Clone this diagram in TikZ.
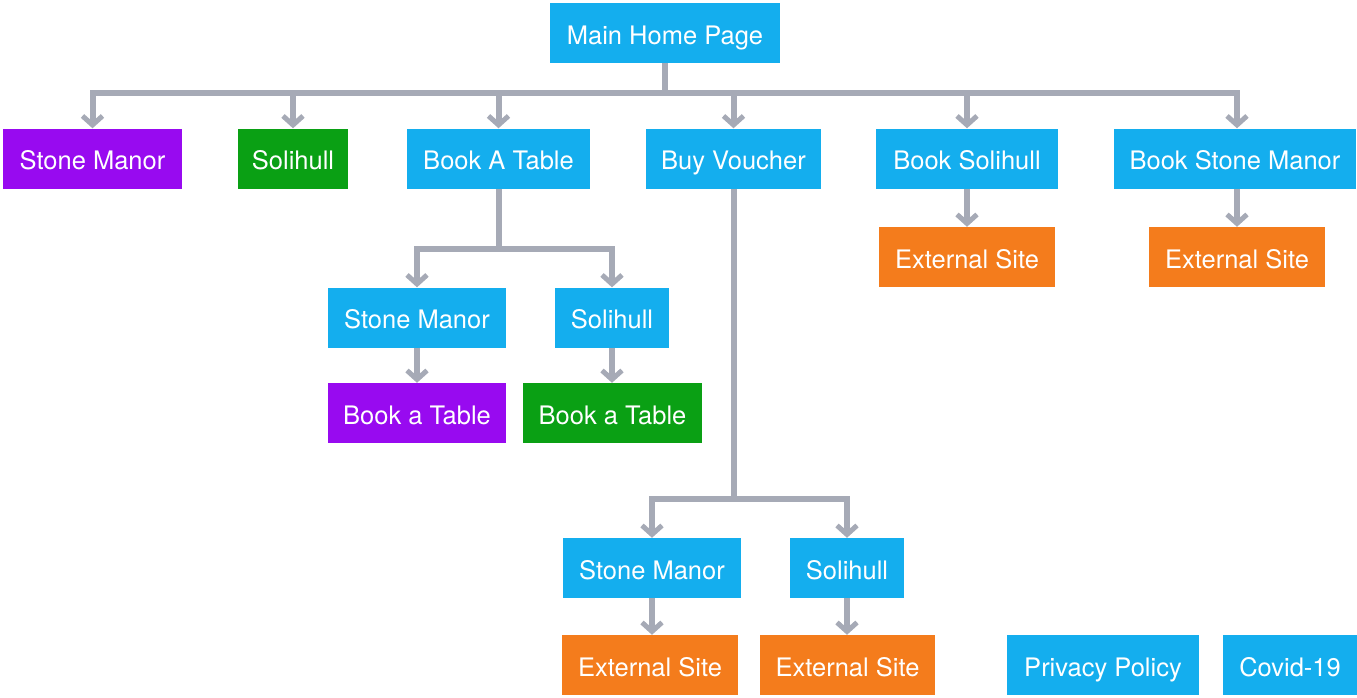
\documentclass[tikz,border=0pt]{standalone}
\usepackage{fontspec}
\setmainfont{TeX Gyre Heros}
\usetikzlibrary{arrows.meta}
\definecolor{pageblue}{RGB}{20,174,238}
\definecolor{sitepurple}{RGB}{152,10,240}
\definecolor{sitegreen}{RGB}{10,160,20}
\definecolor{extorange}{RGB}{244,124,28}
\definecolor{linkgray}{RGB}{166,170,182}
\tikzset{
  pagebox/.style={rectangle, inner sep=0pt, minimum height=60pt, text=white,
    text height=22pt, text depth=0pt,
    font=\fontsize{25.5}{30}\selectfont},
  bluebox/.style={pagebox, fill=pageblue},
  purplebox/.style={pagebox, fill=sitepurple},
  greenbox/.style={pagebox, fill=sitegreen},
  orangebox/.style={pagebox, fill=extorange},
  link/.style={draw=linkgray, line width=6pt},
  linkarrow/.style={link, -{Straight Barb[length=9pt, width=20pt, line width=5pt]}},
}
\begin{document}
\begin{tikzpicture}[x=1pt, y=-1pt]
\useasboundingbox (0,0) rectangle (1357,697);

% root
\node[bluebox, minimum width=230pt] (main) at (665,33) {Main Home Page};

% first level
\node[purplebox, minimum width=179pt] (stone) at (92.5,158.5) {Stone Manor};
\node[greenbox, minimum width=110pt] (soli) at (293,158.5) {Solihull};
\node[bluebox, minimum width=183pt] (table) at (498.5,158.5) {Book A Table};
\node[bluebox, minimum width=175pt] (voucher) at (733.5,158.5) {Buy Voucher};
\node[bluebox, minimum width=182pt] (booksoli) at (967,158.5) {Book Solihull};
\node[bluebox, minimum width=242pt] (bookstone) at (1235,158.5) {Book Stone Manor};

% external sites for the booking pages
\node[orangebox, minimum width=176pt] (extsoli) at (967,257) {External Site};
\node[orangebox, minimum width=176pt] (extstone) at (1237,257) {External Site};

% book a table branch
\node[bluebox, minimum width=178pt] (tstone) at (417,317.5) {Stone Manor};
\node[bluebox, minimum width=114pt] (tsoli) at (612,317.5) {Solihull};
\node[purplebox, minimum width=178pt] (tstonebook) at (417,413) {Book a Table};
\node[greenbox, minimum width=179pt] (tsolibook) at (612.5,413) {Book a Table};

% voucher branch
\node[bluebox, minimum width=178pt] (vstone) at (652,568) {Stone Manor};
\node[bluebox, minimum width=114pt] (vsoli) at (847,568) {Solihull};
\node[orangebox, minimum width=176pt] (vstoneext) at (650,665) {External Site};
\node[orangebox, minimum width=175pt] (vsoliext) at (847.5,665) {External Site};

% standalone pages
\node[bluebox, minimum width=192pt] (privacy) at (1103,665) {Privacy Policy};
\node[bluebox, minimum width=134pt] (covid) at (1290,665) {Covid-19};

% junction points
\coordinate (bus) at (665,93);
\coordinate (tjoin) at (498.5,249);
\coordinate (vjoin) at (733.5,499);

% links from the root
\draw[link] (main.south) -- (bus);
\draw[linkarrow] (bus) -| (stone.north);
\draw[linkarrow] (bus) -| (soli.north);
\draw[linkarrow] (bus) -| (table.north);
\draw[linkarrow] (bus) -| (voucher.north);
\draw[linkarrow] (bus) -| (booksoli.north);
\draw[linkarrow] (bus) -| ([xshift=2pt]bookstone.north);

\draw[linkarrow] (booksoli.south) -- (extsoli.north);
\draw[linkarrow] ([xshift=2pt]bookstone.south) -- (extstone.north);

% book a table links
\draw[link] (table.south) -- (tjoin);
\draw[linkarrow] (tjoin) -| (tstone.north);
\draw[linkarrow] (tjoin) -| (tsoli.north);
\draw[linkarrow] (tstone.south) -- (tstonebook.north);
\draw[linkarrow] (tsoli.south) -- (tsoli.south |- tsolibook.north);

% voucher links
\draw[link] (voucher.south) -- (vjoin);
\draw[linkarrow] (vjoin) -| (vstone.north);
\draw[linkarrow] (vjoin) -| (vsoli.north);
\draw[linkarrow] (vstone.south) -- (vstone.south |- vstoneext.north);
\draw[linkarrow] (vsoli.south) -- (vsoli.south |- vsoliext.north);
\end{tikzpicture}
\end{document}
